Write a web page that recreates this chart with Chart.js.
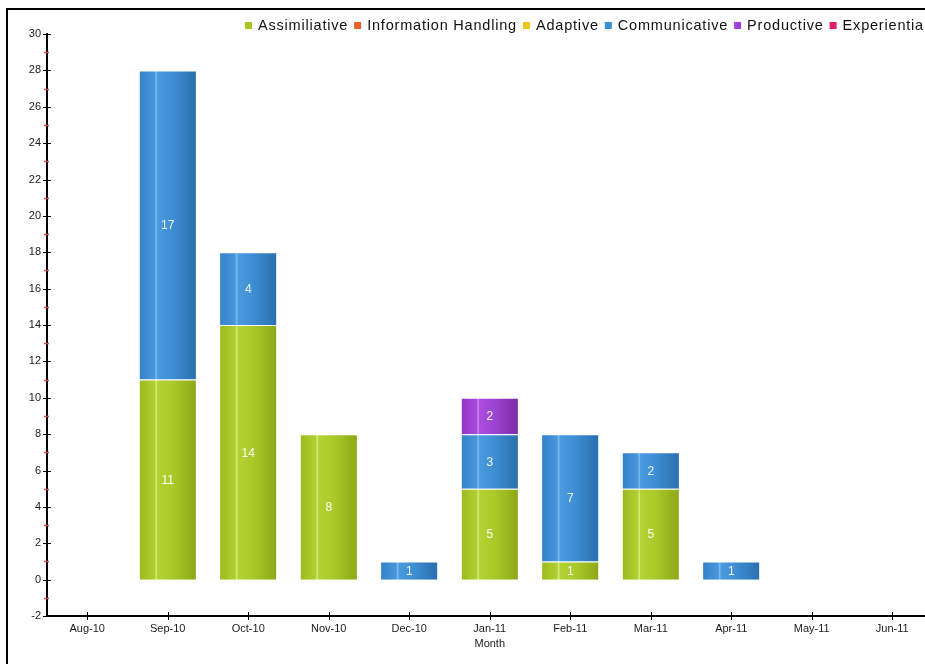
<!DOCTYPE html>
<html>
<head>
<meta charset="utf-8">
<title>Activities by month</title>
<script src="https://cdn.jsdelivr.net/npm/chart.js@4.4.0/dist/chart.umd.min.js"></script>
<style>
  html, body { margin: 0; padding: 0; background: #fff; overflow: hidden; }
  #wrap { position: relative; width: 925px; height: 664px; overflow: hidden; }
  #chart { position: absolute; left: 0; top: 0; }
  #frame { position: absolute; left: 6px; top: 8px; width: 1000px; height: 700px;
           border-left: 2px solid #000; border-top: 2px solid #000; pointer-events: none; }
</style>
</head>
<body>
<div id="wrap">
  <canvas id="chart" width="950" height="664"></canvas>
  <div id="frame"></div>
</div>
<script>
// categories
const months = ['Aug-10', 'Sep-10', 'Oct-10', 'Nov-10', 'Dec-10', 'Jan-11',
                'Feb-11', 'Mar-11', 'Apr-11', 'May-11', 'Jun-11'];

// activity counts per month (null = nothing logged)
const assimiliative       = [null, 11, 14, 8, null, 5, 1, 5, null, null, null];
const informationHandling = [null, null, null, null, null, null, null, null, null, null, null];
const adaptive            = [null, null, null, null, null, null, null, null, null, null, null];
const communicative       = [null, 17, 4, null, 1, 3, 7, 2, 1, null, null];
const productive          = [null, null, null, null, null, 2, null, null, null, null, null];
const experiential        = [null, null, null, null, null, null, null, null, null, null, null];

// y axis range
const yMin = -2, yMax = 30, yStep = 2;

const barShare = 0.7;
const FONT = 'Arial, "Liberation Sans", sans-serif';

// cylinder-ish shading, left to right
const greenStops  = [[0, '#9cba20'], [0.27, '#b2d030'], [0.295, '#d8ee88'], [0.32, '#b4d233'], [0.6, '#aac828'], [1, '#8ca818']];
const blueStops   = [[0, '#3582c6'], [0.27, '#4898de'], [0.295, '#80bef0'], [0.32, '#4a9ade'], [0.6, '#3c8dd2'], [1, '#2b6fae']];
const purpleStops = [[0, '#9236c0'], [0.27, '#a84bde'], [0.295, '#cc8cf0'], [0.32, '#aa4ddf'], [0.6, '#9c42d0'], [1, '#7d2ba8']];
const orangeStops = [[0, '#e8602c'], [1, '#c84818']];
const yellowStops = [[0, '#e8c81c'], [1, '#c8a810']];
const pinkStops   = [[0, '#e0206a'], [1, '#b81050']];

function shade(stops) {
  return (context) => {
    const chart = context.chart;
    const x = chart.scales && chart.scales.x;
    if (!x || !x.width || context.dataIndex === undefined) return stops[0][1];
    const cx = x.getPixelForValue(context.dataIndex);
    const half = x.width / months.length * barShare / 2;
    const g = chart.ctx.createLinearGradient(cx - half, 0, cx + half, 0);
    stops.forEach(([p, c]) => g.addColorStop(p, c));
    return g;
  };
}

function series(label, data, stops, swatch) {
  return {
    label, data, swatch,
    backgroundColor: shade(stops),
    borderColor: 'rgba(255,255,255,0.45)',
    borderWidth: { top: 1, left: 0, right: 0, bottom: 0 },
    borderSkipped: false,
    categoryPercentage: 1,
    barPercentage: barShare
  };
}

// little +-marks across both axes, red minor ticks on y
const axisMarks = {
  id: 'axisMarks',
  afterDraw(chart) {
    const { ctx, scales: { x, y } } = chart;
    ctx.save();
    for (let v = yMin; v <= yMax; v++) {
      const py = Math.round(y.getPixelForValue(v)) + 0.5;
      const major = v % yStep === 0;
      ctx.lineWidth = major ? 1 : 1.5;
      const half = major ? 4 : 3;
      ctx.strokeStyle = major ? '#000' : '#d04a4a';
      ctx.beginPath();
      ctx.moveTo(y.right - half, py);
      ctx.lineTo(y.right + half - (major ? 0 : 1), py);
      ctx.stroke();
    }
    ctx.lineWidth = 1;
    ctx.strokeStyle = '#000';
    months.forEach((m, i) => {
      const px = Math.round(x.getPixelForValue(i)) + 0.5;
      ctx.beginPath();
      ctx.moveTo(px, x.top - 4);
      ctx.lineTo(px, x.top + 4);
      ctx.stroke();
    });
    ctx.restore();
  }
};

// values written in the middle of each segment
const segmentLabels = {
  id: 'segmentLabels',
  afterDatasetsDraw(chart) {
    const ctx = chart.ctx;
    ctx.save();
    ctx.font = '12px ' + FONT;
    ctx.fillStyle = 'rgba(255,255,255,0.95)';
    ctx.textAlign = 'center';
    ctx.textBaseline = 'middle';
    chart.data.datasets.forEach((ds, di) => {
      chart.getDatasetMeta(di).data.forEach((bar, i) => {
        const v = ds.data[i];
        if (!v) return;
        const { x, y, base } = bar.getProps(['x', 'y', 'base'], true);
        ctx.fillText(String(v), x, (y + base) / 2 + 1);
      });
    });
    ctx.restore();
  }
};

// one-row legend across the top
const legendRow = {
  id: 'legendRow',
  afterDraw(chart) {
    const ctx = chart.ctx;
    ctx.save();
    ctx.font = '14.5px ' + FONT;
    ctx.letterSpacing = '0.8px';
    ctx.textBaseline = 'middle';
    let px = 245;
    const py = 25;
    chart.data.datasets.forEach(ds => {
      ctx.fillStyle = ds.swatch;
      ctx.fillRect(px, py - 3, 7, 7);
      px += 13;
      ctx.fillStyle = '#111';
      ctx.fillText(ds.label, px, py + 0.5);
      px += ctx.measureText(ds.label).width + 6;
    });
    ctx.restore();
  }
};

new Chart(document.getElementById('chart'), {
  type: 'bar',
  data: {
    labels: months,
    datasets: [
      series('Assimiliative', assimiliative, greenStops, '#a8c820'),
      series('Information Handling', informationHandling, orangeStops, '#e8602c'),
      series('Adaptive', adaptive, yellowStops, '#e8c81c'),
      series('Communicative', communicative, blueStops, '#3a90d8'),
      series('Productive', productive, purpleStops, '#a040e0'),
      series('Experiential', experiential, pinkStops, '#e0206a')
    ]
  },
  options: {
    responsive: false,
    animation: false,
    layout: { padding: { left: 0, right: 17.5, top: 34, bottom: 0 } },
    plugins: { legend: { display: false }, tooltip: { enabled: false } },
    scales: {
      x: {
        stacked: true,
        offset: true,
        grid: { display: false, drawTicks: false },
        border: { display: true, color: '#000', width: 2 },
        ticks: { color: '#1a1a1a', font: { family: FONT, size: 11 }, padding: 6, autoSkip: false, maxRotation: 0 },
        title: { display: true, text: 'Month', color: '#1a1a1a', font: { family: FONT, size: 11 }, padding: 13 },
        afterFit(scale) { scale.height = 48; }
      },
      y: {
        stacked: true,
        min: yMin,
        max: yMax,
        grid: { display: false, drawTicks: false },
        border: { display: true, color: '#000', width: 2 },
        ticks: { stepSize: yStep, color: '#1a1a1a', font: { family: FONT, size: 11 }, padding: 6 },
        afterFit(scale) { scale.width = 47; }
      }
    }
  },
  plugins: [axisMarks, segmentLabels, legendRow]
});
</script>
</body>
</html>
